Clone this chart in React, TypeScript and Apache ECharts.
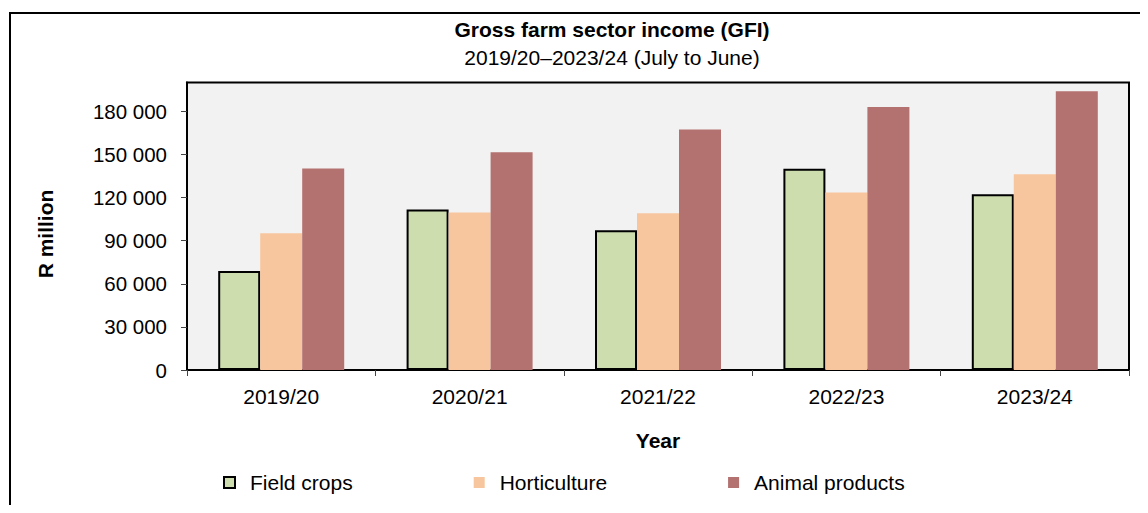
import React, { useEffect, useRef } from "react";
import * as echarts from "echarts";

const categories = ["2019/20", "2020/21", "2021/22", "2022/23", "2023/24"];
const fieldCrops = [68800, 111600, 97300, 140000, 122300];
const horticulture = [95200, 109500, 109100, 123500, 136200];
const animalProducts = [140100, 151500, 167300, 183000, 193900];
const seriesNames = ["Field crops", "Horticulture", "Animal products"];

const FONT = "'Liberation Sans', Arial, Helvetica, sans-serif";

const fmt = (v: number) => String(v).replace(/\B(?=(\d{3})+(?!\d))/g, " ");

export default function App() {
  const ref = useRef<HTMLDivElement>(null);
  useEffect(() => {
    if (!ref.current) return;
    const chart = echarts.init(ref.current, null, { renderer: "svg" });
    chart.setOption({
      animation: false,
      backgroundColor: "#ffffff",
      title: [
        {
          text: "Gross farm sector income (GFI)",
          left: 604,
          top: 9.5,
          textAlign: "center",
          padding: 0,
          textStyle: { fontFamily: FONT, fontSize: 21, fontWeight: "bold", color: "#000", lineHeight: 24 },
        },
        {
          text: "2019/20–2023/24 (July to June)",
          left: 604,
          top: 37,
          textAlign: "center",
          padding: 0,
          textStyle: { fontFamily: FONT, fontSize: 21, fontWeight: "normal", color: "#000", lineHeight: 24 },
        },
      ],
      graphic: [
        {
          type: "rect",
          z: -1,
          silent: true,
          shape: { x: 2, y: 5, width: 1300, height: 900 },
          style: { fill: "none", stroke: "#000", lineWidth: 2 },
        },
        {
          type: "text",
          x: 37,
          y: 226,
          rotation: Math.PI / 2,
          style: {
            text: "R million",
            fontFamily: FONT,
            fontSize: 21,
            fontWeight: "bold",
            fill: "#000",
            align: "center",
            verticalAlign: "middle",
          },
        },
      ],
      legend: {
        data: seriesNames,
        left: 215,
        top: 462.5,
        icon: "rect",
        itemWidth: 11,
        itemHeight: 11,
        itemGap: 121,
        padding: 0,
        textStyle: { fontFamily: FONT, fontSize: 21, color: "#000", lineHeight: 24, padding: [0, 0, 0, 10] },
      },
      grid: {
        left: 179,
        top: 74.5,
        right: 11,
        bottom: 143,
        show: true,
        backgroundColor: "#f2f2f2",
        borderColor: "#000",
        borderWidth: 2,
        outerBoundsMode: "none",
      },
      xAxis: {
        type: "category",
        data: categories,
        name: "Year",
        nameLocation: "middle",
        nameGap: 60,
        nameTextStyle: { fontFamily: FONT, fontSize: 21, fontWeight: "bold", color: "#000" },
        axisLine: { lineStyle: { color: "#000", width: 2 } },
        axisTick: { show: true, length: 6, lineStyle: { color: "#444", width: 1 } },
        axisLabel: { fontFamily: FONT, fontSize: 21, color: "#000", margin: 16 },
      },
      yAxis: {
        type: "value",
        min: 0,
        max: 200000,
        interval: 30000,
        axisLine: { show: true, lineStyle: { color: "#000", width: 2 } },
        axisTick: { show: true, length: 6, lineStyle: { color: "#444", width: 1 } },
        splitLine: { show: false },
        axisLabel: {
          fontFamily: FONT,
          fontSize: 20.5,
          color: "#000",
          margin: 20,
          showMaxLabel: false,
          formatter: (v: number) => (v > 180000 ? "" : fmt(v)),
        },
      },
      series: [
        {
          name: seriesNames[0],
          type: "bar",
          data: fieldCrops,
          barWidth: 42,
          barGap: "0%",
          itemStyle: { color: "#cdddae", borderColor: "#000", borderWidth: 2 },
        },
        {
          name: seriesNames[1],
          type: "bar",
          data: horticulture,
          barWidth: 42,
          barGap: "0%",
          itemStyle: { color: "#f7c69e" },
        },
        {
          name: seriesNames[2],
          type: "bar",
          data: animalProducts,
          barWidth: 42,
          barGap: "0%",
          itemStyle: { color: "#b3716f" },
        },
      ],
    });
    return () => chart.dispose();
  }, []);
  return <div ref={ref} style={{ width: 1132, height: 505, marginBottom: -8 }} />;
}
